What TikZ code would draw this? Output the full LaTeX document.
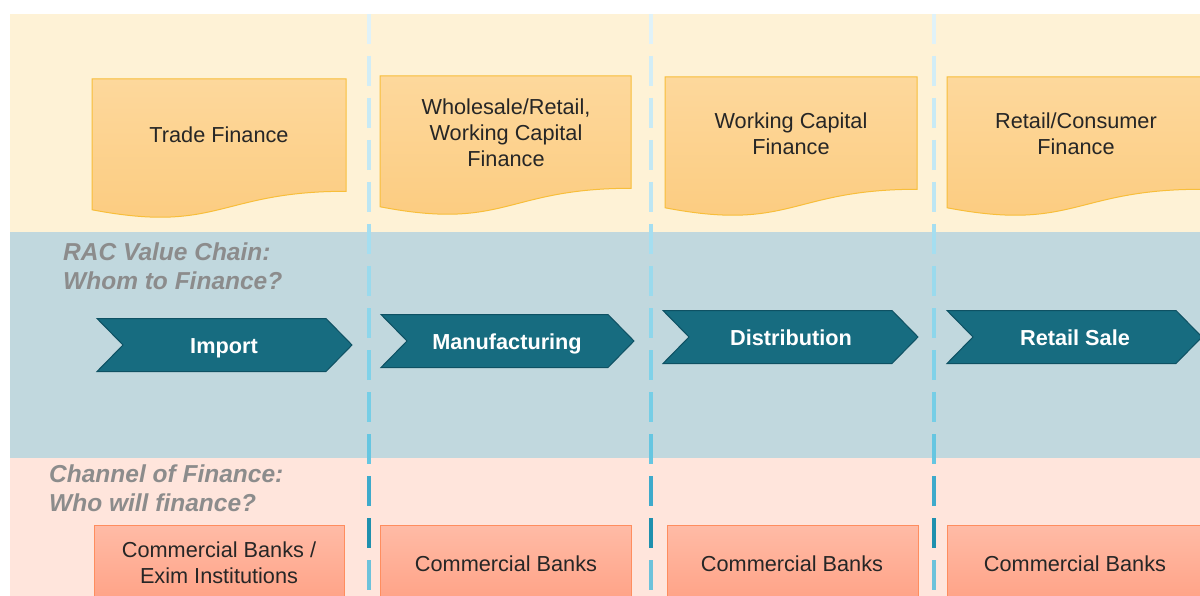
\documentclass[tikz,border=0pt]{standalone}
\usepackage{fontspec}
\setmainfont{Liberation Sans}
\definecolor{bandtop}{HTML}{FEF2D6}
\definecolor{bandmid}{HTML}{C1D8DE}
\definecolor{bandbot}{HTML}{FFE5DC}
\definecolor{doctop}{HTML}{FDD89C}
\definecolor{docbot}{HTML}{FCCB7E}
\definecolor{docline}{HTML}{F8BE3A}
\definecolor{chevfill}{HTML}{176C80}
\definecolor{chevline}{HTML}{0E5163}
\definecolor{banktop}{HTML}{FFBBA6}
\definecolor{bankbot}{HTML}{FFA286}
\definecolor{bankline}{HTML}{FF8D5E}
\definecolor{txt}{HTML}{262626}
\definecolor{labgray}{HTML}{8C8C8C}
\definecolor{dA}{HTML}{E0F2F8}
\definecolor{dB}{HTML}{D2EDF6}
\definecolor{dC}{HTML}{C8EAF5}
\definecolor{dD}{HTML}{C3E8F4}
\definecolor{dE}{HTML}{BDE6F3}
\definecolor{dF}{HTML}{A5DEF0}
\definecolor{dG}{HTML}{9ADAED}
\definecolor{dH}{HTML}{8DD6EB}
\definecolor{dI}{HTML}{80D2E9}
\definecolor{dJ}{HTML}{76CEE6}
\definecolor{dK}{HTML}{66C6E1}
\definecolor{dL}{HTML}{3EAACB}
\definecolor{dM}{HTML}{1F90AE}
\definecolor{dN}{HTML}{6DC2DB}
\newcommand\docshape[4]{%
  \path[docbox] (#1,#2) -- ({#1+#3},#2) -- ({#1+#3},{#2+0.802*#4})
    .. controls ({#1+0.5*#3},{#2+0.802*#4}) and ({#1+0.5*#3},{#2+1.1075*#4}) ..
    (#1,{#2+0.934*#4}) -- cycle;}
\newcommand\chevshape[4]{%
  \path[chev] (#1,{#3-26.5}) -- ({#1+#2-26},{#3-26.5}) -- ({#1+#2},#3)
    -- ({#1+#2-26},{#3+26.5}) -- (#1,{#3+26.5}) -- ({#1+#4},#3) -- cycle;}
\begin{document}
\begin{tikzpicture}[x=1pt,y=-1pt,
  docbox/.style={draw=docline, line width=1pt, top color=doctop, bottom color=docbot},
  chev/.style={draw=chevline, line width=1pt, fill=chevfill},
  bank/.style={draw=bankline, line width=1pt, top color=banktop, bottom color=bankbot},
  dtext/.style={font=\fontsize{21.7}{26}\selectfont, text=txt, align=center, inner sep=0pt, anchor=base},
  ctext/.style={font=\fontsize{21.7}{26}\selectfont\bfseries, text=white, inner sep=0pt, anchor=base},
  lab/.style={font=\fontsize{24.5}{29}\selectfont\bfseries\itshape, text=labgray, align=left, inner sep=0pt, anchor=base west},
  dashseg/.style={line width=4pt}
]
\useasboundingbox (0,0) rectangle (1200,596);
\clip (0,0) rectangle (1200,596);
% bands
\fill[bandtop] (10,14) rectangle (1200,232);
\fill[bandmid] (10,232) rectangle (1200,458);
\fill[bandbot] (10,458) rectangle (1200,596);
% dashed separators
\foreach \xx in {369,651,934}{
  \foreach \k/\c in {0/dA,1/dB,2/dC,3/dD,4/dE,5/dF,6/dG,7/dH,8/dI,9/dJ,10/dK,11/dL,12/dM,13/dN}{
    \draw[dashseg, \c] (\xx,{14+42*\k}) -- (\xx,{44+42*\k});
  }
}
% document boxes
\docshape{92}{79}{254}{140}
\docshape{380}{76}{251}{140}
\docshape{665}{77}{252}{140}
\docshape{947}{77}{254}{140}
\node[dtext] (tf) at (219,143) {Trade Finance};
\node[dtext] (wr) at (506,167) {Wholesale/Retail,\\Working Capital\\Finance};
\node[dtext] (wc) at (791,155) {Working Capital\\Finance};
\node[dtext] (rc) at (1076,155) {Retail/Consumer\\Finance};
% labels
\node[lab] (rac) at (63,290) {RAC Value Chain:\\Whom to Finance?};
\node[lab] (chn) at (49,511) {Channel of Finance:\\Who will finance?};
% chevrons
\chevshape{97}{255}{345}{26}
\chevshape{381}{253}{341}{26}
\chevshape{663}{255}{337}{26}
\chevshape{947}{255}{337}{26}
\node[ctext] (imp) at (224,353) {Import};
\node[ctext] (man) at (507,349) {Manufacturing};
\node[ctext] (dis) at (791,345) {Distribution};
\node[ctext] (ret) at (1075,345) {Retail Sale};
% bank boxes
\path[bank] (94,525) rectangle (344,602);
\path[bank] (380,525) rectangle (631,602);
\path[bank] (667,525) rectangle (918,602);
\path[bank] (947,525) rectangle (1204,602);
\node[dtext] (b1) at (219,583) {Commercial Banks /\\Exim Institutions};
\node[dtext] (b2) at (506,571) {Commercial Banks};
\node[dtext] (b3) at (792,571) {Commercial Banks};
\node[dtext] (b4) at (1075,571) {Commercial Banks};
\end{tikzpicture}
\end{document}
